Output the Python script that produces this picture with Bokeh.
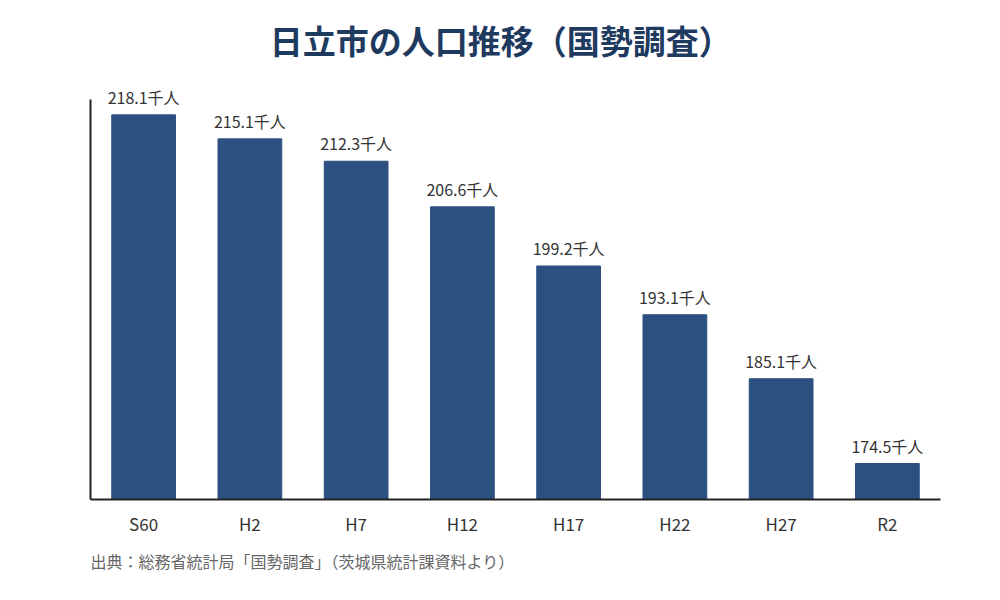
from bokeh.plotting import figure
from bokeh.models import ColumnDataSource, Label, LabelSet, Range1d, Title
from bokeh.embed import file_html
from bokeh.resources import INLINE
from bokeh.core.properties import value

# 日立市の人口（国勢調査、千人）
years = ["S60", "H2", "H7", "H12", "H17", "H22", "H27", "R2"]
population = [218.1, 215.1, 212.3, 206.6, 199.2, 193.1, 185.1, 174.5]
bar_labels = [f"{v}千人" for v in population]

FONT = "Noto Sans CJK JP"

source = ColumnDataSource(data=dict(years=years, population=population, labels=bar_labels))

# 描画領域を上端まで広げ、タイトルも領域内に置く（y軸の線は170〜220のみ）
p = figure(x_range=years, y_range=Range1d(170, 232.4), width=990, height=590,
           output_backend="svg", toolbar_location=None,
           min_border_left=90, min_border_right=50, min_border_top=0, min_border_bottom=91)
p.x_range.range_padding = 0
p.outline_line_color = None
p.grid.grid_line_color = None
p.title.visible = False

p.vbar(x="years", top="population", bottom=170, width=0.6, color="#2c5080", source=source)
p.add_layout(LabelSet(x="years", y="population", text="labels", source=source,
                      text_align="center", text_baseline="bottom", y_offset=6,
                      text_font=value(FONT), text_font_size="16px", text_color="#333333"))

p.xaxis.axis_line_color = "#222222"
p.xaxis.axis_line_width = 2
p.xaxis.major_tick_line_color = None
p.xaxis.minor_tick_line_color = None
p.xaxis.major_label_text_font = FONT
p.xaxis.major_label_text_font_size = "17px"
p.xaxis.major_label_text_color = "#333333"
p.xaxis.major_label_standoff = 5

p.yaxis.bounds = (170, 220)
p.yaxis.axis_line_color = "#222222"
p.yaxis.axis_line_width = 2
p.yaxis.major_tick_line_color = None
p.yaxis.minor_tick_line_color = None
p.yaxis.major_label_text_font_size = "0px"

p.add_layout(Label(x=3.86, y=227.4, text="日立市の人口推移（国勢調査）",
                   text_align="center", text_baseline="middle", text_font=FONT,
                   text_font_size="33px", text_font_style="bold", text_color="#1e3a5f"))

p.add_layout(Title(text="出典：総務省統計局「国勢調査」（茨城県統計課資料より）", align="left",
                   text_font=FONT, text_font_size="16px", text_font_style="normal",
                   text_color="#666666", standoff=17), "below")

open("out.html", "w").write(file_html(p, INLINE))
